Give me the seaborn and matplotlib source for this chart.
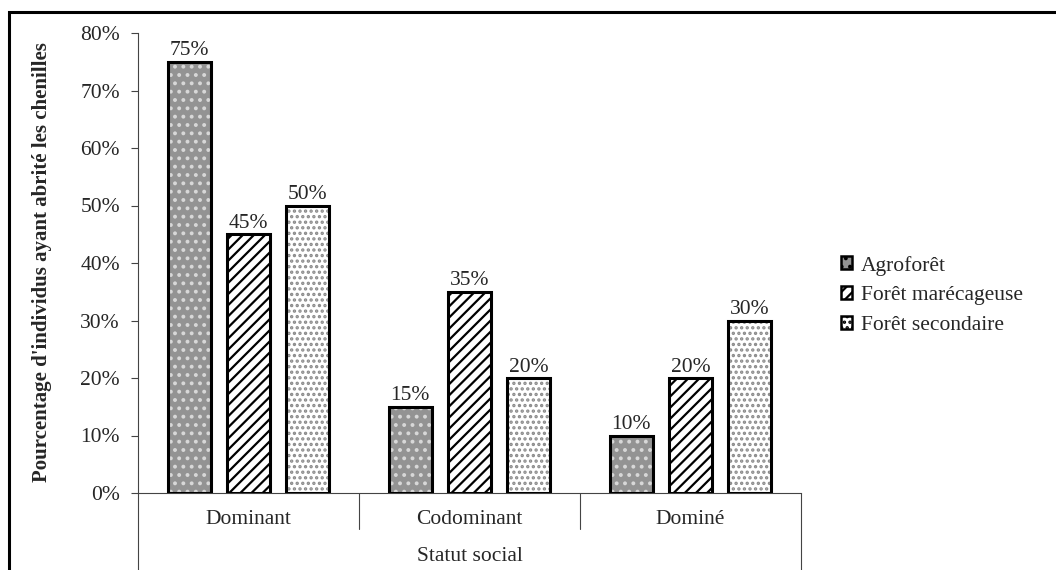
import pandas as pd
import seaborn as sns
from matplotlib import pyplot as plt
from matplotlib.patches import Patch, Rectangle
from matplotlib.ticker import FuncFormatter

# data
statuts = ['Dominant', 'Codominant', 'Dominé']
sites = ['Agroforêt', 'Forêt marécageuse', 'Forêt secondaire']
agroforet = [75, 15, 10]
foret_marecageuse = [45, 35, 20]
foret_secondaire = [50, 20, 30]

df = pd.DataFrame({
    'statut': statuts * 3,
    'site': [s for s in sites for _ in statuts],
    'pct': agroforet + foret_marecageuse + foret_secondaire,
})

sns.set_style('white')
plt.rcParams['font.family'] = ['Liberation Serif', 'DejaVu Serif']
plt.rcParams['hatch.linewidth'] = 1.6
fs = 15.5

# face colour, hatch, hatch colour for each site
styles = {
    'Agroforêt': ('#939393', '..', '#d8d8d8'),
    'Forêt marécageuse': ('white', '///', 'black'),
    'Forêt secondaire': ('white', '...', '#8a8a8a'),
}

fig = plt.figure(figsize=(10.56, 5.70), dpi=100)
ax = fig.add_axes([138 / 1056, 1 - 493 / 570, 663 / 1056, 460 / 570])

sns.barplot(data=df, x='statut', y='pct', hue='site', order=statuts,
            hue_order=sites, palette=['white'] * 3, width=0.805, gap=0.27,
            legend=False, ax=ax)

for site, cont in zip(sites, ax.containers):
    fc, hatch, hc = styles[site]
    for p in cont:
        p.set_facecolor(fc)
        p.set_hatch(hatch)
        p.set_edgecolor(hc)
        p.set_linewidth(0)
        ax.add_patch(Rectangle(p.get_xy(), p.get_width(), p.get_height(),
                               fill=False, ec='black', lw=2.2, zorder=3))
    ax.bar_label(cont, labels=[f'{v:.0f}%' for v in cont.datavalues],
                 padding=1, fontsize=fs)

ax.set_ylim(0, 80)
ax.set_xlim(-0.5, 2.5)
ax.set_yticks(range(0, 81, 10))
ax.yaxis.set_major_formatter(FuncFormatter(lambda v, _: f'{v:.0f}%'))
ax.tick_params(axis='y', length=5, width=0.8, pad=8, labelsize=fs,
               left=True, color='#444444')
ax.tick_params(axis='x', length=0, pad=12, labelsize=fs)
ax.set_xlabel('Statut social', fontsize=fs)
ax.xaxis.set_label_coords(0.5, -0.117)
ax.set_ylabel("Pourcentage d'individus ayant abrité les chenilles",
              fontsize=15, fontweight='bold')
ax.yaxis.set_label_coords(-0.13, 0.502)

for side in ['top', 'right']:
    ax.spines[side].set_visible(False)
for side in ['left', 'bottom']:
    ax.spines[side].set_color('#444444')
    ax.spines[side].set_linewidth(0.8)

# category separator lines of the two-level axis
tr = ax.get_xaxis_transform()
for x in [-0.5, 0.5, 1.5, 2.5]:
    low = -0.2 if x in (-0.5, 2.5) else -0.078
    ax.plot([x, x], [0, low], transform=tr, color='#444444', lw=0.8,
            clip_on=False)

handles = [Patch(facecolor=styles[s][0], hatch=styles[s][1],
                 edgecolor='black', lw=1.8) for s in sites]
fig.legend(handles, sites, loc='upper left',
           bbox_to_anchor=(832 / 1056, 1 - 247 / 570), frameon=False,
           fontsize=fs, handlelength=0.55, handleheight=0.55,
           handletextpad=0.4, labelspacing=0.5, borderaxespad=0)

# outer frame (runs off the right and bottom edges)
fig.add_artist(Rectangle((9 / 1056, -0.1), 1.2, 1.1 - 12 / 570,
                         transform=fig.transFigure, fill=False,
                         ec='black', lw=2.2))

fig.savefig('out.png', dpi=100)
